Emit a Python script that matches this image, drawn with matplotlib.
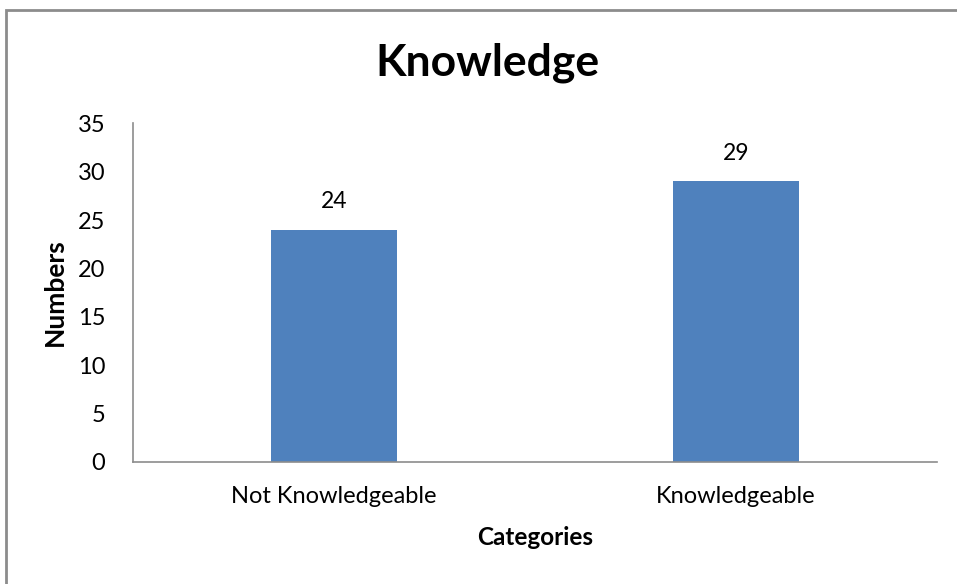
import matplotlib
matplotlib.use('Agg')
import matplotlib.pyplot as plt
from matplotlib.patches import Rectangle

# datos del grafico
categorias = ['Not Knowledgeable', 'Knowledgeable']
valores = [24, 29]
ticks_y = [0, 5, 10, 15, 20, 25, 30, 35]

plt.rcParams['font.family'] = ['Lato', 'DejaVu Sans']

fig = plt.figure(figsize=(9.57, 5.84), dpi=100)
ax = fig.add_axes([0.139, 0.209, 0.840, 0.580])

# borde exterior del grafico (solo se ven izquierda y arriba)
fig.patches.append(Rectangle((6 / 957, -0.1), 1.2, 1.1 - 10 / 584, transform=fig.transFigure,
                             fill=False, edgecolor='#8c8c8c', linewidth=2, zorder=0))

pos = range(len(categorias))
barras = ax.bar(pos, valores, width=0.313, color='#4f81bd')
for x, v in zip(pos, valores):
    ax.text(x, v + 1.8, str(v), ha='center', va='bottom', fontsize=16.5)

ax.set_xlim(-0.5, 1.5)
ax.set_ylim(0, 35)
ax.set_yticks(ticks_y)
ax.set_xticks(list(pos))
ax.set_xticklabels(categorias)
ax.tick_params(axis='both', length=0, labelsize=17)
ax.tick_params(axis='x', pad=17)
ax.tick_params(axis='y', pad=20)

for s in ['top', 'right']:
    ax.spines[s].set_visible(False)
for s in ['left', 'bottom']:
    ax.spines[s].set_color('#8c8c8c')
    ax.spines[s].set_linewidth(1.2)

ax.set_xlabel('Categories', fontsize=17.5, fontweight='bold', labelpad=14)
ax.set_ylabel('Numbers', fontsize=19, fontweight='bold', labelpad=8)
fig.text(0.509, 0.893, 'Knowledge', ha='center', va='center', fontsize=32, fontweight='bold')

fig.savefig('out.png', dpi=100)
